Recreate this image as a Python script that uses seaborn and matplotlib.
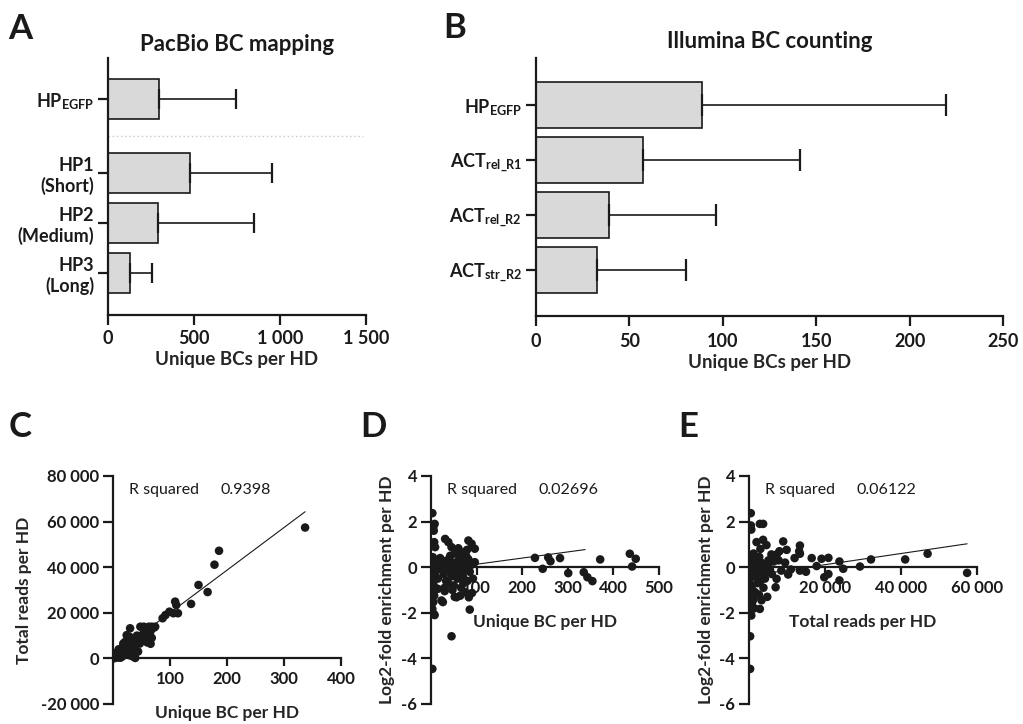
import numpy as np
import pandas as pd
import matplotlib
matplotlib.use("Agg")
import matplotlib.pyplot as plt
from matplotlib.ticker import FuncFormatter
import seaborn as sns

# ---------------- data ----------------
# Panel A: PacBio BC mapping (mean + SD)
a_labels = [r"$\mathbf{HP}_{\mathregular{EGFP}}$", "HP1\n(Short)", "HP2\n(Medium)", "HP3\n(Long)"]
a_pos = [0.0, 1.48, 2.48, 3.48]
a_mean = [297, 475, 289, 126]
a_sd = [450, 476, 559, 132]

# Panel B: Illumina BC counting (mean + SD)
b_labels = [r"$\mathbf{HP}_{\mathregular{EGFP}}$", r"$\mathbf{ACT}_{\mathregular{rel\_R1}}$",
            r"$\mathbf{ACT}_{\mathregular{rel\_R2}}$", r"$\mathbf{ACT}_{\mathregular{str\_R2}}$"]
b_mean = [88.9, 57.4, 39.1, 32.7]
b_sd = [130.4, 83.9, 57.2, 47.7]

# Panel C: unique BC vs total reads per HD
c_unique = [337, 186, 178, 166, 150, 137, 109, 111, 114, 106, 99, 92, 87, 74, 68, 63, 54, 48,
            30, 24, 66, 63, 68, 56, 45, 37, 66, 60, 50, 40, 19, 39, 30, 22, 15, 12, 8, 5, 2, 0,
            10, 18, 25, 28, 33, 35, 20, 14, 6, 3, 26, 42, 52, 58, 72, 47, 38, 31, 9, 16, 24, 11,
            4, 7, 21, 29, 17, 13, 36, 44]
c_reads = [57400, 47200, 41100, 29100, 32200, 23900, 24900, 23400, 19800, 19800, 20500, 19000,
           17600, 13900, 13900, 13900, 13900, 13900, 13200, 10200, 12000, 11000, 9000, 8000, 7400,
           7400, 6400, 7000, 9500, 8500, 5800, 200, 1300, 4500, 3000, 2000, 1000, 500, 100, 0,
           4000, 6500, 5000, 3500, 6000, 4500, 2500, 1500, 2500, 1200, 8000, 10000, 10500, 11500,
           13500, 6500, 5500, 2500, 400, 800, 1800, 3500, 300, 1600, 7200, 9500, 4200, 300, 700, 3000]
c_fit = [187, 1300]          # slope, intercept
c_r2 = "0.9398"

# Panel D: unique BC vs log2-fold enrichment per HD
d_unique = [3, 8, 5, 6, 7, 9, 4, 3, 2, 5, 4, 3, 6, 2, 4, 7, 5, 3, 6, 8, 3, 9, 10,
            45, 85, 83, 90, 26, 30, 56, 31, 38, 45, 82, 89, 96, 79, 60, 96,
            20, 25, 28, 33, 35, 40, 42, 45, 48, 50, 52, 55, 58, 60, 62, 65, 66, 68, 70, 72, 74,
            75, 78, 80, 82, 85, 88, 92, 30, 38, 47, 64, 57, 43, 53, 67, 22, 18, 15, 36, 71, 77,
            52, 23, 15,
            228, 245, 257, 262, 283, 301, 335, 343, 354, 371, 436, 449, 441]
d_log2 = [2.37, 1.9, 1.75, 1.6, 1.1, 0.88, 0.44, 0.2, 0.0, -0.2, -0.45, -0.6, -0.8, -0.95, -1.1,
          -1.25, -1.53, -1.83, -2.05, -2.1, -4.46, -0.35, -0.1,
          -3.03, -1.86, -1.32, -1.13, -1.53, -1.05, -1.32, 1.24, 1.1, 0.88, 1.17, 1.03, 0.81, 0.76,
          0.83, 0.22,
          0.4, 0.1, -0.3, -0.6, 0.3, -0.1, 0.5, -0.4, 0.2, -0.8, 0.6, 0.0, -0.5, 0.3, -0.2, 0.55,
          -0.9, 0.1, -0.4, 0.45, -0.1, -1.1, 0.2, -0.6, 0.35, -0.2, 0.1, -0.5, -0.9, -0.7, -1.0,
          -1.25, 0.7, -0.2, -0.3, 0.65, -0.1, 0.2, -0.5, 0.05, -0.7, 0.5,
          -1.3, -1.46, -0.95,
          0.41, -0.07, 0.43, 0.26, 0.4, -0.26, -0.22, -0.44, -0.61, 0.34, 0.59, 0.37, 0.03]
d_fit = [0.0027, -0.14]
d_fit_range = [0, 338]
d_r2 = "0.02696"

# Panel E: total reads vs log2-fold enrichment per HD
e_reads = [475, 500, 600, 2850, 3720, 1980, 3700, 4600, 3000, 9000, 9900, 13400, 13400, 13200,
           8000, 7300, 5900, 5100, 17800, 19100, 20900, 19800, 20900, 23800, 23800, 24800, 13400,
           10300, 7260, 7000, 2850, 600, 300, 300, 57400, 47000, 41100, 32100, 29200,
           200, 500, 800, 1000, 300, 600, 900, 400, 1200, 700, 500, 1500, 2000, 2500, 1800, 2200,
           1600, 2600, 3200, 3500, 3000, 4000, 4500, 4200, 5000, 5500, 6000, 6500, 3800, 2700,
           1200, 900, 1400, 350, 250, 150, 11000, 8500, 9500, 12000, 4800, 3300, 15000, 16500, 7800]
e_log2 = [2.37, 1.83, 1.65, 1.9, 1.9, 1.1, 1.2, 0.97, 0.8, 1.13, 0.76, 0.95, 0.59, 0.7, 0.7,
          0.56, 0.56, 0.3, 0.05, 0.37, 0.41, -0.44, -0.3, 0.25, -0.58, -0.07, -0.15, -0.32, -0.51,
          -0.88, -1.83, -2.12, -3.03, -4.46, -0.25, 0.59, 0.34, 0.34, 0.03,
          0.4, 0.2, 0.0, -0.2, -0.5, -0.8, -1.0, -1.2, -1.4, -1.6, -1.9, 0.3, 0.1, -0.1, -0.4,
          -0.7, -1.1, -1.2, 0.2, -0.3, -0.6, 0.0, -0.2, -0.5, 0.1, -0.1, -0.3, 0.25, -0.9, 0.45,
          0.6, -1.5, -1.8, -2.05, -1.0, -0.3, -0.1, -0.15, 0.2, 0.4, -1.3, -1.45, -0.2, 0.4, 0.3]
e_fit = [2.45e-5, -0.38]
e_r2 = "0.06122"

# ---------------- style ----------------
sns.set_theme(style="ticks")
plt.rcParams["font.family"] = ["Lato", "DejaVu Sans"]
plt.rcParams["mathtext.fontset"] = "custom"
plt.rcParams["mathtext.rm"] = "Lato"
plt.rcParams["mathtext.bf"] = "Lato:bold"
plt.rcParams["mathtext.it"] = "Lato:italic"
plt.rcParams["axes.linewidth"] = 1.6
plt.rcParams["xtick.major.width"] = 1.6
plt.rcParams["ytick.major.width"] = 1.6
plt.rcParams["xtick.major.size"] = 7
plt.rcParams["ytick.major.size"] = 7
plt.rcParams["xtick.major.pad"] = 3
plt.rcParams["ytick.major.pad"] = 3
plt.rcParams["xtick.color"] = "#1a1a1a"
plt.rcParams["ytick.color"] = "#1a1a1a"
plt.rcParams["axes.edgecolor"] = "#1a1a1a"
plt.rcParams["text.color"] = "#1a1a1a"

W, H = 1023, 724
fig = plt.figure(figsize=(W / 100, H / 100), dpi=100)


def px_axes(left, top, right, bottom):
    return fig.add_axes([left / W, 1 - bottom / H, (right - left) / W, (bottom - top) / H])


def thousands(v, _pos=None):
    return f"{int(round(v)):,}".replace(",", " ")


BAR_FILL = "#d9d9d9"
INK = "#1a1a1a"

# ---------------- Panel A ----------------
axA = px_axes(108, 58, 366, 315)
dfA = pd.DataFrame({"pos": a_pos, "mean": a_mean})
sns.barplot(data=dfA, x="mean", y="pos", orient="h", native_scale=True, width=0.8,
            color=BAR_FILL, edgecolor=INK, linewidth=1.2, saturation=1, ax=axA)
axA.errorbar(a_mean, a_pos, xerr=[np.zeros(len(a_sd)), a_sd], fmt="none", ecolor=INK,
             elinewidth=1.2, capsize=7, capthick=1.6, zorder=1)
axA.plot([0, 1480], [0.74, 0.74], ls=(0, (1, 2)), color="#c8c8c8", lw=1.0, zorder=0)
axA.set_ylim(4.33, -0.82)
axA.set_xlim(0, 1500)
axA.set_xticks([0, 500, 1000, 1500])
axA.xaxis.set_major_formatter(FuncFormatter(thousands))
axA.set_yticks(a_pos)
axA.set_yticklabels(a_labels, fontweight="bold", fontsize=13, multialignment="right",
                    linespacing=1.2)
axA.tick_params(axis="x", labelsize=13, pad=4)
for t in axA.get_xticklabels():
    t.set_fontweight("bold")
axA.set_xlabel("Unique BCs per HD", fontsize=13.5, fontweight="bold", labelpad=3)
axA.set_ylabel("")
axA.set_title("PacBio BC mapping", fontsize=16, fontweight="bold", pad=5)
sns.despine(ax=axA)

# ---------------- Panel B ----------------
axB = px_axes(536, 58, 1003, 316)
dfB = pd.DataFrame({"label": b_labels, "mean": b_mean})
sns.barplot(data=dfB, x="mean", y="label", orient="h", width=0.83,
            color=BAR_FILL, edgecolor=INK, linewidth=1.2, saturation=1, ax=axB)
axB.errorbar(b_mean, np.arange(len(b_mean)), xerr=[np.zeros(len(b_sd)), b_sd], fmt="none",
             ecolor=INK, elinewidth=1.2, capsize=8, capthick=1.6, zorder=1)
axB.set_ylim(3.84, -0.86)
axB.set_xlim(0, 250)
axB.set_xticks([0, 50, 100, 150, 200, 250])
axB.tick_params(axis="both", labelsize=13)
axB.tick_params(axis="x", pad=5)
for t in axB.get_xticklabels() + axB.get_yticklabels():
    t.set_fontweight("bold")
axB.set_xlabel("Unique BCs per HD", fontsize=13.5, fontweight="bold", labelpad=3)
axB.set_ylabel("")
axB.set_title("Illumina BC counting", fontsize=16, fontweight="bold", pad=7)
sns.despine(ax=axB)


# ---------------- scatter helpers ----------------
def scatter_panel(ax, x, y, fit, xr, r2, xlabel, ylabel, xlim, ylim, xticks, yticks,
                  xlabel_y, ylabel_x):
    sns.scatterplot(x=x, y=y, ax=ax, color=INK, s=38, edgecolor="none", zorder=3)
    xs = np.array(xr, dtype=float)
    sns.lineplot(x=xs, y=fit[0] * xs + fit[1], ax=ax, color=INK, lw=0.8, zorder=4)
    ax.set_xlim(*xlim)
    ax.set_ylim(*ylim)
    ax.spines["bottom"].set_position(("data", 0))
    sns.despine(ax=ax)
    ax.spines["bottom"].set_bounds(0, xlim[1])
    ax.set_xticks(xticks)
    ax.set_yticks(yticks)
    ax.xaxis.set_major_formatter(FuncFormatter(thousands))
    ax.yaxis.set_major_formatter(FuncFormatter(thousands))
    ax.tick_params(axis="both", labelsize=12)
    ax.tick_params(axis="x", length=6)
    for t in ax.get_xticklabels() + ax.get_yticklabels():
        t.set_fontweight("bold")
    ax.set_xlabel(xlabel, fontsize=12.5, fontweight="bold")
    ax.xaxis.set_label_coords(0.5, xlabel_y)
    ax.set_ylabel(ylabel, fontsize=12.5, fontweight="bold")
    ax.yaxis.set_label_coords(ylabel_x, 0.5)
    ax.text(0.07, 0.94, "R squared", transform=ax.transAxes, fontsize=11.5, va="center")
    ax.text(0.47, 0.94, r2, transform=ax.transAxes, fontsize=11.5, va="center")


axC = px_axes(113, 476, 341, 704)
scatter_panel(axC, c_unique, c_reads, c_fit, [min(c_unique), max(c_unique)], c_r2,
              "Unique BC per HD", "Total reads per HD", (0, 400), (-20000, 80000),
              [100, 200, 300, 400], [-20000, 0, 20000, 40000, 60000, 80000], -0.005, -0.355)

axD = px_axes(431, 476, 659, 704)
scatter_panel(axD, d_unique, d_log2, d_fit, d_fit_range, d_r2,
              "Unique BC per HD", "Log2-fold enrichment per HD", (0, 500), (-6, 4),
              [100, 200, 300, 400, 500], [-6, -4, -2, 0, 2, 4], 0.395, -0.16)

axE = px_axes(749, 476, 977, 704)
scatter_panel(axE, e_reads, e_log2, e_fit, [0, max(e_reads)], e_r2,
              "Total reads per HD", "Log2-fold enrichment per HD", (0, 60000), (-6, 4),
              [20000, 40000, 60000], [-6, -4, -2, 0, 2, 4], 0.395, -0.155)

# ---------------- panel letters ----------------
for letter, (lx, ly) in {"A": (8, 13), "B": (443, 12), "C": (9, 411), "D": (360, 411),
                         "E": (678, 411)}.items():
    fig.text(lx / W, 1 - ly / H, letter, fontsize=25, fontweight="bold", ha="left", va="top",
             color=INK)

fig.savefig("out.png", dpi=100)
